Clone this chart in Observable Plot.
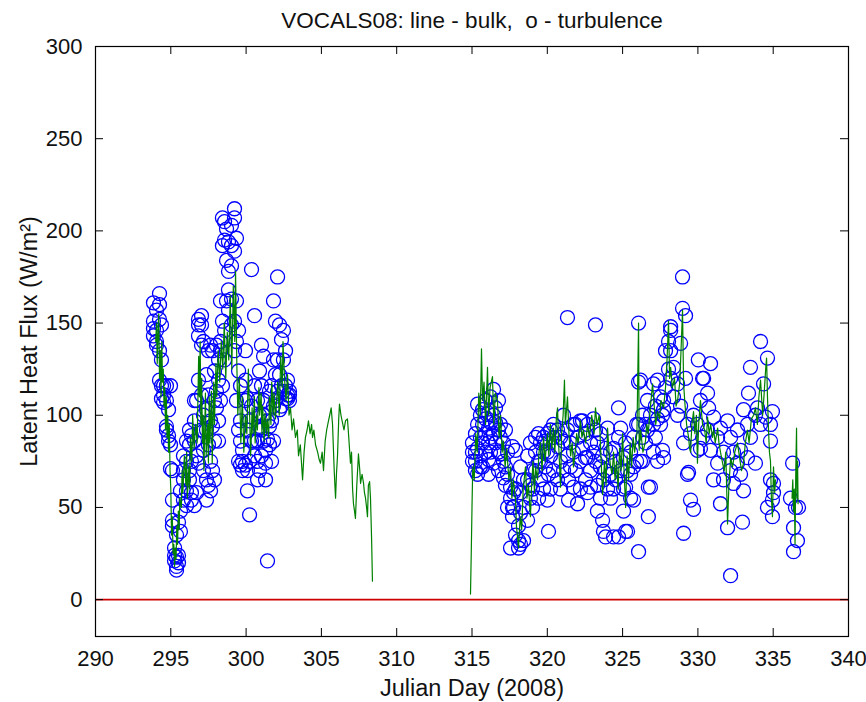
<!DOCTYPE html>
<html><head><meta charset="utf-8">
<script src="https://cdn.jsdelivr.net/npm/d3@7"></script>
<script src="https://cdn.jsdelivr.net/npm/@observablehq/plot@0.6"></script>
<style>body{margin:0;background:#fff;} svg{display:block}</style>
</head><body><div id="chart"></div>
<script>
const titleText = "VOCALS08: line - bulk,  o - turbulence";
const xLabel = "Julian Day (2008)";
const yLabel = "Latent Heat Flux (W/m²)";
const xTicks = [290,295,300,305,310,315,320,325,330,335,340];
const yTicks = [0,50,100,150,200,250,300];

// bulk flux (green line), three continuous legs
const bulkLeg1 = [
[294.00,140],[294.05,150],[294.10,128],[294.15,145],[294.20,155],[294.25,120],[294.30,135],[294.35,110],[294.40,140],[294.45,118],
[294.50,125],[294.55,105],[294.60,115],[294.65,92],[294.70,110],[294.75,88],[294.80,100],[294.85,80],[294.90,95],[294.95,70],
[295.00,60],[295.05,35],[295.10,45],[295.15,25],[295.20,30],[295.25,18],[295.30,28],[295.35,22],[295.40,40],[295.45,30],
[295.50,48],[295.55,38],[295.60,55],[295.70,50],[295.75,70],[295.80,58],[295.90,78],[296.00,62],[296.05,80],[296.10,55],
[296.20,72],[296.25,60],[296.30,88],[296.40,75],[296.45,100],[296.55,82],[296.65,95],[296.75,85],[296.85,132],[296.90,110],
[296.95,140],[297.00,95],[297.05,120],[297.10,85],[297.15,100],[297.20,70],[297.30,112],[297.35,78],[297.45,95],[297.50,74],
[297.55,110],[297.60,85],[297.70,113],[297.75,74],[297.85,118],[297.90,95],[298.00,128],[298.05,110],[298.15,135],[298.25,118],
[298.35,140],[298.45,125],[298.55,150],[298.65,120],[298.75,145],[298.85,130],[298.95,165],[299.05,125],[299.15,170],[299.25,140],
[299.30,178],[299.38,130],[299.45,100],[299.55,120],[299.65,85],[299.75,110],[299.85,80],[299.95,100],[300.05,90],[300.15,125],
[300.25,95],[300.30,78],[300.40,104],[300.45,90],[300.55,110],[300.60,85],[300.70,100],[300.75,92],[300.85,115],[300.90,100],
[301.00,112],[301.05,90],[301.10,105],[301.20,86],[301.25,101],[301.35,90],[301.40,98],[301.50,88],[301.55,110],[301.65,95],
[301.70,118],[301.80,100],[301.85,112],[301.95,98],[302.00,104],[302.10,118],[302.20,100],[302.30,132],[302.40,115],[302.45,140],
[302.55,120],[302.65,108],[302.75,122],[302.85,100],[302.95,104],[303.05,92],[303.15,98],[303.28,88],[303.40,92],[303.48,78],
[303.60,84],[303.75,65],[303.85,80],[303.94,88],[304.05,92],[304.14,97],[304.25,90],[304.35,95],[304.41,88],[304.50,92],
[304.61,84],[304.75,80],[304.85,76],[304.94,74],[305.05,80],[305.14,70],[305.25,86],[305.35,92],[305.47,97],[305.55,100],
[305.65,104],[305.74,95],[305.85,70],[305.94,55],[306.00,68],[306.07,78],[306.15,98],[306.20,106],[306.30,100],[306.40,96],
[306.50,92],[306.60,97],[306.73,98],[306.80,90],[306.93,74],[307.00,80],[307.07,60],[307.13,52],[307.20,48],[307.26,44],
[307.35,62],[307.46,79],[307.55,70],[307.60,63],[307.70,68],[307.80,63],[307.86,58],[307.93,55],[308.00,50],[308.06,45],
[308.12,62],[308.20,64],[308.26,55],[308.33,34],[308.39,10]
];
const bulkLeg2 = [
[314.90,3],[314.95,25],[315.00,50],[315.05,72],[315.15,65],[315.25,90],[315.35,80],[315.45,112],[315.55,100],[315.63,136],
[315.70,108],[315.80,118],[315.90,95],[316.03,126],[316.10,100],[316.20,115],[316.36,121],[316.45,95],[316.55,112],[316.69,108],
[316.80,88],[316.90,100],[317.00,80],[317.09,86],[317.20,72],[317.30,82],[317.45,65],[317.56,72],[317.65,55],[317.75,65],
[317.89,54],[317.95,40],[318.09,28],[318.20,45],[318.30,38],[318.40,60],[318.55,72],[318.65,55],[318.75,62],[318.88,45],
[318.95,60],[319.05,75],[319.15,58],[319.22,72],[319.35,65],[319.45,80],[319.55,85],[319.65,70],[319.75,88],[319.85,75],
[320.01,90],[320.10,78],[320.20,95],[320.30,82],[320.41,93],[320.50,80],[320.60,98],[320.68,104],[320.75,85],[320.88,61],
[320.95,90],[321.05,100],[321.14,119],[321.20,95],[321.34,110],[321.45,88],[321.55,78],[321.65,85],[321.74,72],[321.85,80],
[321.95,90],[322.05,85],[322.20,97],[322.30,88],[322.40,92],[322.55,85],[322.67,95],[322.80,88],[322.95,100],[323.10,90],
[323.20,104],[323.30,95],[323.45,100],[323.55,80],[323.67,57],[323.80,75],[323.90,62],[324.00,93],[324.10,80],[324.20,72],
[324.30,68],[324.40,80],[324.50,65],[324.60,75],[324.70,60],[324.80,82],[324.90,70],[325.00,90],[325.06,77],[325.20,50],
[325.30,78],[325.40,65],[325.50,85],[325.60,72],[325.70,88],[325.80,80],[325.95,90],[326.06,150],[326.10,81],[326.20,92],
[326.35,80],[326.52,86],[326.60,95],[326.70,90],[326.85,105],[326.99,117],[327.10,105],[327.20,95],[327.32,102],[327.45,98],
[327.55,108],[327.72,104],[327.85,115],[327.95,130],[328.05,151],[328.12,120],[328.19,126],[328.30,115],[328.45,120],[328.55,105],
[328.65,108],[328.80,118],[328.98,157],[329.05,117],[329.15,105],[329.25,95],[329.38,88],[329.45,82],[329.51,80],[329.60,95],
[329.71,102],[329.80,90],[329.90,100],[329.97,74],[330.05,95],[330.17,108],[330.31,95],[330.45,92],[330.55,85],[330.64,99],
[330.75,90],[330.85,95],[330.97,88],[331.05,92],[331.15,85],[331.31,93],[331.40,85],[331.50,80],[331.64,74],[331.75,70],
[331.85,80],[331.97,41],[332.05,60],[332.17,77],[332.30,72],[332.45,80],[332.63,85],[332.75,78],[332.90,70],[333.03,74],
[333.15,85],[333.29,92],[333.40,85],[333.55,98],[333.70,100],[333.82,104],[333.95,95],[334.05,110],[334.16,119],[334.30,100],
[334.40,112],[334.50,125],[334.56,131],[334.62,110],[334.69,92],[334.75,80],[334.82,75],[334.88,55],[334.95,45],[335.02,72],
[335.10,58],[335.15,65]
];
const bulkLeg3 = [
[336.25,55],[336.30,65],[336.35,48],[336.40,60],[336.45,30],[336.50,70],[336.55,93],[336.58,55],[336.62,75],[336.65,52]
];

// turbulence flux (blue circles): [day, [values at that day]]
const turbulence = [
[293.85,[161,151,147,143]],[294.05,[157,146,140,138]],[294.25,[166,160,152,135,119]],[294.38,[149,130,116,109]],
[294.52,[116,111,107]],[294.71,[116,108,94,92]],[294.85,[103,89,86]],[294.98,[116,84,71]],[295.11,[70,54,43,40]],
[295.25,[28,24,21]],[295.38,[18,23,16,35]],[295.51,[24,20,42]],[295.64,[48,59,37]],[295.84,[65,70,54,78]],
[296.04,[59,75,86,51]],[296.24,[84,70,65,92]],[296.37,[89,75,54,58]],[296.57,[108,97,86,51]],[296.71,[108,78,58]],
[296.84,[152,149,143,119,74]],[297.04,[154,149,138,111,92]],[297.17,[140,100,81,70]],[297.37,[122,103,92,65,54]],
[297.50,[135,111,84,62]],[297.64,[138,97,75,59]],[297.77,[135,94,70]],[297.90,[124,108,86,65]],[298.03,[138,113,104]],
[298.17,[130,119,97,86]],[298.30,[162,140,135,108]],[298.43,[207,192,151,116]],[298.57,[205,195,146,130]],
[298.70,[201,184,162]],[298.83,[194,178,168,157]],[299.03,[203,192,181,163,149]],[299.23,[212,207,189,151,135]],
[299.36,[196,162,140,108]],[299.50,[146,124,92,75]],[299.63,[116,97,86,73]],[299.76,[75,70,81]],[299.96,[73,108,119,135]],
[300.09,[59,70,92,109]],[300.23,[46,97,75]],[300.36,[179,105,86]],[300.56,[154,116,86,78]],[300.76,[108,86,75,65]],
[300.89,[124,100,70,94]],[301.02,[138,116,92,78]],[301.16,[132,108,100,86]],[301.29,[81,65,74]],[301.42,[21,97,87]],
[301.55,[113,94,84]],[301.69,[116,97,75]],[301.82,[162,130,105,86]],[301.95,[151,122,108]],[302.09,[175,130,113]],
[302.22,[149,122,103]],[302.35,[141,116,105]],[302.48,[146,130,113]],[302.62,[135,116,109]],[302.75,[119,111,109]],
[302.88,[113,108,111]],
[315.03,[85,80,75]],[315.23,[75,90,70,80]],[315.37,[106,95,82,68]],[315.56,[100,88,72,78]],[315.70,[103,72,95,85]],
[315.90,[108,98,90,80]],[316.10,[101,93,85,68,76]],[316.23,[110,96,88,80]],[316.43,[114,100,74,90]],[316.56,[104,96,85]],
[316.76,[108,92,80,70]],[316.89,[79,95,88]],[317.09,[66,85,75]],[317.22,[92,72,62]],[317.36,[50,68,80]],[317.56,[61,28,55]],
[317.69,[83,50,45]],[317.76,[50,58]],[317.89,[81,60,35]],[318.09,[28,40,32]],[318.22,[47,72,58,30]],[318.42,[32,50,65]],
[318.69,[43,65,78]],[318.88,[55,62,85]],[319.02,[50,70,60]],[319.22,[70,80,88]],[319.42,[55,75,90]],[319.55,[75,65,85]],
[319.75,[80,88,60]],[319.88,[86,72]],[320.01,[54,80,90]],[320.08,[37,68]],[320.21,[92,78,60]],[320.41,[88,70,95]],
[320.68,[83,65,92]],[320.88,[88,75,60]],[321.08,[86,70,100]],[321.34,[153,92,78]],[321.41,[54,65]],[321.54,[72,85]],
[321.74,[61,80,95]],[321.87,[95,70]],[322.01,[52,88]],[322.20,[97,75,60]],[322.34,[97,82]],[322.54,[77,90,65]],
[322.67,[77,95,58]],[322.87,[61,85,70]],[323.07,[98,80]],[323.20,[149,92,75]],[323.33,[48,62,85]],[323.53,[72,90,55]],
[323.67,[43,78]],[323.73,[37,65]],[323.87,[34,82,70]],[324.00,[93,60]],[324.20,[80,55,68]],[324.40,[82,34,60]],
[324.53,[75,65]],[324.73,[104,34,88]],[324.87,[93,70]],[325.06,[77,60,48]],[325.20,[61,37,85]],[325.33,[37,70]],
[325.53,[68,80,55]],[325.73,[54,72,88]],[325.93,[95,75]],[326.06,[150,118,26,95]],[326.19,[119,75]],[326.32,[75,88,100]],
[326.52,[85,95]],[326.65,[108,92]],[326.71,[45,61]],[326.85,[61,100]],[327.05,[117,95,80]],[327.18,[88,105]],
[327.32,[119,75,98]],[327.52,[110,95]],[327.65,[81,100]],[327.72,[103,77,108]],[327.85,[135,115]],[328.05,[140,125]],
[328.19,[148,146,135,120]],[328.38,[126,110]],[328.65,[117,100]],[328.85,[139,105]],[328.98,[175,158]],[329.05,[85,36]],
[329.18,[154,120]],[329.31,[68,95]],[329.38,[69]],[329.51,[54,90]],[329.71,[49,100]],[329.97,[81,95]],[330.03,[130]],
[330.17,[82,108]],[330.31,[120,88]],[330.38,[120]],[330.64,[112,92]],[330.71,[104]],[330.84,[128,81]],[331.04,[99,65]],
[331.31,[74,88]],[331.50,[93,52]],[331.70,[65,80]],[331.97,[97,39]],[332.17,[88,13,70]],[332.37,[63,80]],[332.63,[92,74]],
[332.83,[81,68]],[332.96,[42]],[333.03,[103,59]],[333.29,[77,95]],[333.36,[112]],[333.49,[126,88]],[333.82,[74,100]],
[333.96,[104]],[334.16,[140,95]],[334.36,[117]],[334.49,[99]],[334.62,[131,50]],[334.82,[95,86,65]],[334.95,[102,54,45]],
[335.02,[63,58]],[336.15,[55]],[336.29,[74]],[336.35,[39,26]],[336.48,[50]],[336.61,[32]],[336.68,[50]]
];

const W = 866, H = 702, mL = 95, mR = 18, mT = 46, mB = 66;
const pw = W - mL - mR, ph = H - mT - mB, tk = 8;
const turb = turbulence.flatMap(([d, vs]) => vs.map(v => ({day: d, flux: v})));
const bulk = [bulkLeg1, bulkLeg2, bulkLeg3].flatMap((leg, i) => leg.map(([d, v]) => ({day: d, flux: v, leg: i})));
const font = "'Liberation Sans', Arial, Helvetica, sans-serif";

const chart = Plot.plot({
  width: W, height: H,
  marginLeft: mL, marginRight: mR, marginTop: mT, marginBottom: mB,
  style: {fontFamily: font, fontSize: "22px", background: "#fff", color: "#111"},
  x: {domain: [290, 340]},
  y: {domain: [-20, 300]},
  marks: [
    Plot.ruleY([0], {stroke: "#cc0000", strokeWidth: 1.6}),
    Plot.dot(turb, {x: "day", y: "flux", r: 7, stroke: "#0000ff", strokeWidth: 1.3, fill: "none"}),
    Plot.line(bulk, {x: "day", y: "flux", z: "leg", stroke: "#008000", strokeWidth: 1.2}),
    Plot.tickX(xTicks, {x: d => d, insetTop: ph - tk, stroke: "#000"}),
    Plot.tickX(xTicks, {x: d => d, insetBottom: ph - tk, stroke: "#000"}),
    Plot.tickY(yTicks, {y: d => d, insetRight: pw - tk, stroke: "#000"}),
    Plot.tickY(yTicks, {y: d => d, insetLeft: pw - tk, stroke: "#000"}),
    Plot.frame({stroke: "#000", strokeWidth: 1.2}),
    Plot.axisX(xTicks, {tickSize: 0, tickPadding: 14, label: null, fontSize: 22}),
    Plot.axisY(yTicks, {tickSize: 0, tickPadding: 13, label: null, fontSize: 22}),
    Plot.text([titleText], {frameAnchor: "top", textAnchor: "middle", lineAnchor: "middle", dy: -26, fontSize: 22.5}),
    Plot.text([xLabel], {frameAnchor: "bottom", textAnchor: "middle", lineAnchor: "middle", dy: 52, fontSize: 23.5}),
    Plot.text([yLabel], {frameAnchor: "left", textAnchor: "middle", lineAnchor: "middle", rotate: -90, dx: -66, fontSize: 23.5})
  ]
});
document.getElementById("chart").appendChild(chart);
</script>
</body></html>
